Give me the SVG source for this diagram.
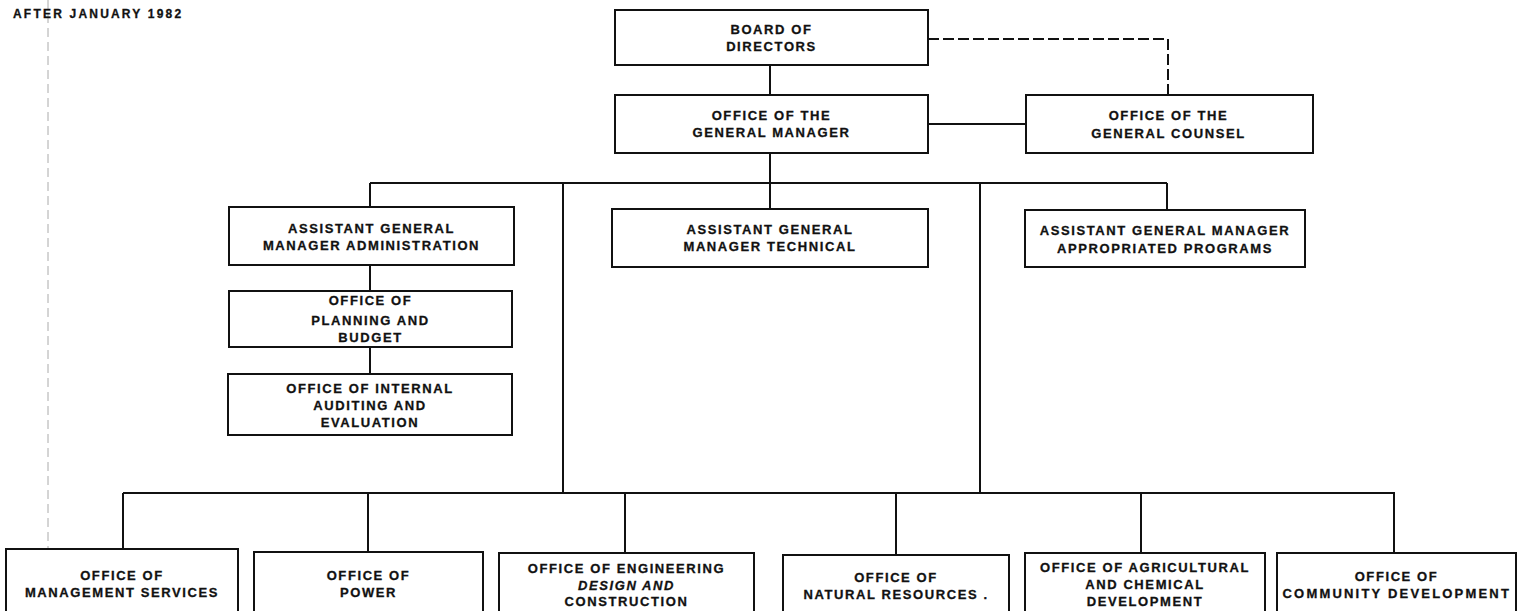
<svg xmlns="http://www.w3.org/2000/svg" width="1527" height="611" viewBox="0 0 1527 611">
<style>
  .box { fill: #fff; stroke: #111; stroke-width: 2; }
  .t { font-family: "Liberation Sans", Arial, sans-serif; font-weight: bold; font-size: 13px; letter-spacing: 1.6px; fill: #111; stroke: #111; stroke-width: 0.3; text-anchor: middle; }
  .it { font-style: italic; }
  .title { font-family: "Liberation Sans", Arial, sans-serif; font-weight: bold; font-size: 12px; letter-spacing: 2.2px; fill: #111; stroke: #111; stroke-width: 0.3; }
  .c { fill: none; stroke: #111; stroke-width: 2; }
  .d { fill: none; stroke: #111; stroke-width: 2; stroke-dasharray: 11 4; }
  .scan { fill: none; stroke: #aaa; stroke-width: 1; stroke-dasharray: 9 5; }
</style>
<rect x="0" y="0" width="1527" height="611" fill="#fff"/>
<line class="scan" x1="48" y1="0" x2="48" y2="611"/>
<text class="title" x="13" y="17.5">AFTER JANUARY 1982</text>

<g id="connectors">
  <path class="c" d="M770 65 V95"/>
  <path class="d" d="M928 39 H1168 V95"/>
  <path class="c" d="M928 124 H1026"/>
  <path class="c" d="M770 153 V209"/>
  <path class="c" d="M370 183 H1167"/>
  <path class="c" d="M370 183 V207"/>
  <path class="c" d="M370 265 V291"/>
  <path class="c" d="M370 347 V374"/>
  <path class="c" d="M1167 183 V210"/>
  <path class="c" d="M563 183 V493"/>
  <path class="c" d="M980 183 V493"/>
  <path class="c" d="M123 493 H1395"/>
  <path class="c" d="M123 493 V549"/>
  <path class="c" d="M368 493 V552"/>
  <path class="c" d="M625 493 V553"/>
  <path class="c" d="M896 493 V555"/>
  <path class="c" d="M1141 493 V553"/>
  <path class="c" d="M1394 493 V553"/>
</g>

<g id="board">
  <rect class="box" x="615" y="10" width="313" height="55"/>
  <text class="t" x="771.5" y="34">BOARD OF</text>
  <text class="t" x="771.5" y="51">DIRECTORS</text>
</g>
<g id="general-manager">
  <rect class="box" x="615" y="95" width="313" height="58"/>
  <text class="t" x="771.5" y="119.5">OFFICE OF THE</text>
  <text class="t" x="771.5" y="136.5">GENERAL MANAGER</text>
</g>
<g id="general-counsel">
  <rect class="box" x="1026" y="95" width="287" height="58"/>
  <text class="t" x="1168.5" y="120">OFFICE OF THE</text>
  <text class="t" x="1168.5" y="137.5">GENERAL COUNSEL</text>
</g>
<g id="agm-admin">
  <rect class="box" x="229" y="207" width="285" height="58"/>
  <text class="t" x="371.5" y="232.5">ASSISTANT GENERAL</text>
  <text class="t" x="371.5" y="250">MANAGER ADMINISTRATION</text>
</g>
<g id="planning-budget">
  <rect class="box" x="229" y="291" width="283" height="56"/>
  <text class="t" x="370.5" y="305">OFFICE OF</text>
  <text class="t" x="370.5" y="325">PLANNING AND</text>
  <text class="t" x="370.5" y="342">BUDGET</text>
</g>
<g id="internal-auditing">
  <rect class="box" x="228" y="374" width="284" height="61"/>
  <text class="t" x="370" y="392.5">OFFICE OF INTERNAL</text>
  <text class="t" x="370" y="410">AUDITING AND</text>
  <text class="t" x="370" y="426.5">EVALUATION</text>
</g>
<g id="agm-technical">
  <rect class="box" x="612" y="209" width="316" height="58"/>
  <text class="t" x="770" y="233.5">ASSISTANT GENERAL</text>
  <text class="t" x="770" y="251">MANAGER TECHNICAL</text>
</g>
<g id="agm-appropriated">
  <rect class="box" x="1025" y="210" width="280" height="57"/>
  <text class="t" x="1165" y="234.5">ASSISTANT GENERAL MANAGER</text>
  <text class="t" x="1165" y="252.5">APPROPRIATED PROGRAMS</text>
</g>

<g id="management-services">
  <rect class="box" x="6" y="549" width="232" height="70"/>
  <text class="t" x="122" y="580">OFFICE OF</text>
  <text class="t" x="122" y="597">MANAGEMENT SERVICES</text>
</g>
<g id="power">
  <rect class="box" x="254" y="552" width="229" height="70"/>
  <text class="t" x="368.5" y="580">OFFICE OF</text>
  <text class="t" x="368.5" y="597">POWER</text>
</g>
<g id="engineering">
  <rect class="box" x="499" y="553" width="255" height="70"/>
  <text class="t" x="626.5" y="573">OFFICE OF ENGINEERING</text>
  <text class="t it" x="626.5" y="589.5">DESIGN AND</text>
  <text class="t" x="626.5" y="605.5">CONSTRUCTION</text>
</g>
<g id="natural-resources">
  <rect class="box" x="783" y="555" width="226" height="70"/>
  <text class="t" x="896" y="581.5">OFFICE OF</text>
  <text class="t" x="896" y="599">NATURAL RESOURCES .</text>
</g>
<g id="agricultural-chemical">
  <rect class="box" x="1025" y="553" width="240" height="70"/>
  <text class="t" x="1145" y="571.5">OFFICE OF AGRICULTURAL</text>
  <text class="t" x="1145" y="588.5">AND CHEMICAL</text>
  <text class="t" x="1145" y="605.5">DEVELOPMENT</text>
</g>
<g id="community-development">
  <rect class="box" x="1277" y="553" width="239" height="70"/>
  <text class="t" x="1396.5" y="581">OFFICE OF</text>
  <text class="t" x="1396.5" y="598" textLength="228" lengthAdjust="spacing">COMMUNITY DEVELOPMENT</text>
</g>
</svg>
